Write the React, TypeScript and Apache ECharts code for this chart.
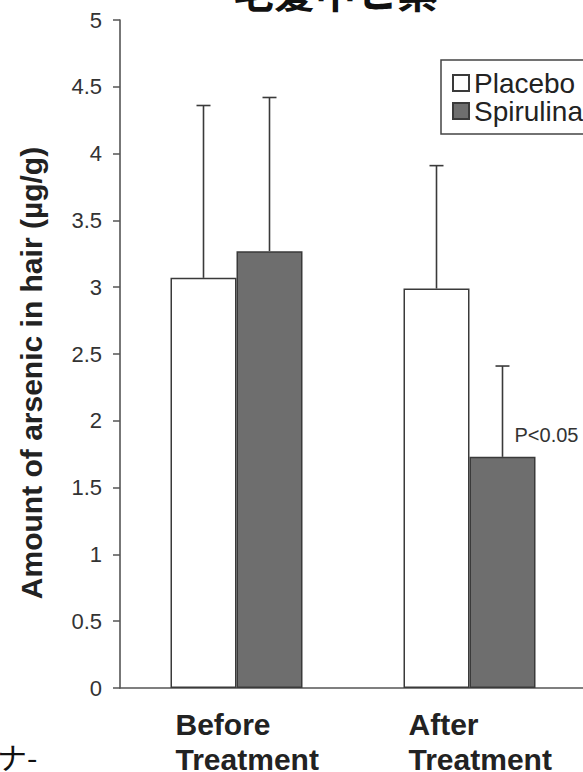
import React, { useEffect, useRef } from "react";
import * as echarts from "echarts";

const categories = ["Before\nTreatment", "After\nTreatment"];
const seriesNames = ["Placebo", "Spirulina"];
const placebo = [3.07, 2.99];
const spirulina = [3.27, 1.73];
const placeboSD = [1.29, 0.92];
const spirulinaSD = [1.15, 0.68];
const spirulinaNotes = ["", "P<0.05"];
const yMin = 0;
const yMax = 5;
const yInterval = 0.5;
const yAxisTitle = "Amount of arsenic in hair (µg/g)";
const pageTitle = "毛髪中ヒ素";

const FONT = "'Liberation Sans', Arial, sans-serif";
const BAR_W = 66;

function errorSeries(name: string, values: number[], sds: number[], side: number) {
  return {
    type: "custom",
    name,
    z: 5,
    silent: true,
    encode: { x: 0, y: 1 },
    data: values.map((v, i) => [i, v, sds[i]]),
    renderItem: (params: any, api: any) => {
      const base = api.coord([api.value(0), api.value(1)]);
      const top = api.coord([api.value(0), api.value(1) + api.value(2)]);
      const x = base[0] + (side * BAR_W) / 2;
      const style = { stroke: "#3a3a3a", lineWidth: 1.6 };
      return {
        type: "group",
        children: [
          { type: "line", shape: { x1: x, y1: base[1], x2: x, y2: top[1] }, style },
          { type: "line", shape: { x1: x - 7, y1: top[1], x2: x + 7, y2: top[1] }, style },
        ],
      };
    },
  };
}

export default function App() {
  const ref = useRef<HTMLDivElement>(null);
  useEffect(() => {
    if (!ref.current) return;
    const chart = echarts.init(ref.current, undefined, { renderer: "svg" });
    const barStyle = { borderColor: "#3a3a3a", borderWidth: 1.5 };
    chart.setOption({
      animation: false,
      backgroundColor: "#ffffff",
      grid: {
        left: 120,
        top: 20,
        width: 466,
        bottom: 84,
        containLabel: false,
        outerBoundsMode: "none",
      },
      legend: {
        data: seriesNames,
        orient: "vertical",
        left: 441,
        top: 60,
        padding: [9, 12, 9, 11],
        itemGap: 0,
        itemWidth: 16,
        itemHeight: 16,
        icon: "rect",
        borderColor: "#444",
        borderWidth: 1.5,
        backgroundColor: "#fff",
        textStyle: { fontSize: 28, lineHeight: 24, color: "#222", fontFamily: FONT },
      },
      xAxis: {
        type: "category",
        data: categories,
        axisLine: { lineStyle: { color: "#555", width: 1.6 } },
        axisTick: { show: false },
        axisLabel: {
          interval: 0,
          align: "left",
          margin: 19,
          padding: [0, 0, 0, -61],
          fontSize: 30,
          lineHeight: 35,
          fontWeight: "bold",
          color: "#222",
          fontFamily: FONT,
        },
      },
      yAxis: {
        type: "value",
        min: yMin,
        max: yMax,
        interval: yInterval,
        splitLine: { show: false },
        axisLine: { show: true, lineStyle: { color: "#555", width: 1.6 } },
        axisTick: { show: true, length: 7, lineStyle: { color: "#555", width: 1.5 } },
        axisLabel: { margin: 18, fontSize: 22, color: "#333", fontFamily: FONT },
      },
      graphic: [
        {
          type: "text",
          x: 31,
          y: 373,
          rotation: Math.PI / 2,
          style: {
            text: yAxisTitle,
            fontSize: 30,
            fontWeight: "bold",
            fill: "#222",
            fontFamily: FONT,
            align: "center",
            verticalAlign: "middle",
          },
        },
        {
          type: "text",
          x: 233,
          y: 10,
          style: {
            text: pageTitle,
            fontSize: 41,
            fontWeight: "bold",
            fill: "#111",
            fontFamily: "'Noto Sans CJK JP', sans-serif",
            align: "left",
            verticalAlign: "bottom",
          },
        },
        {
          type: "text",
          x: -3,
          y: 756,
          style: {
            text: "ナ-",
            fontSize: 30,
            fill: "#111",
            fontFamily: "'Noto Sans CJK JP', sans-serif",
            align: "left",
            verticalAlign: "middle",
          },
        },
      ],
      series: [
        {
          type: "bar",
          name: seriesNames[0],
          data: placebo,
          barWidth: BAR_W,
          barGap: "0%",
          itemStyle: { color: "#ffffff", ...barStyle },
        },
        {
          type: "bar",
          name: seriesNames[1],
          data: spirulina.map((v, i) =>
            spirulinaNotes[i]
              ? {
                  value: v,
                  label: {
                    show: true,
                    formatter: spirulinaNotes[i],
                    position: [45, -22],
                    align: "left",
                    verticalAlign: "middle",
                    fontSize: 20,
                    color: "#333",
                    fontFamily: FONT,
                  },
                }
              : v
          ),
          barWidth: BAR_W,
          barGap: "0%",
          itemStyle: { color: "#6e6e6e", ...barStyle },
        },
        errorSeries("placeboErr", placebo, placeboSD, -1),
        errorSeries("spirulinaErr", spirulina, spirulinaSD, 1),
      ],
    });
    return () => chart.dispose();
  }, []);
  return (
    <div
      ref={ref}
      style={{ position: "fixed", left: 0, top: 0, width: 583, height: 772 }}
    />
  );
}
